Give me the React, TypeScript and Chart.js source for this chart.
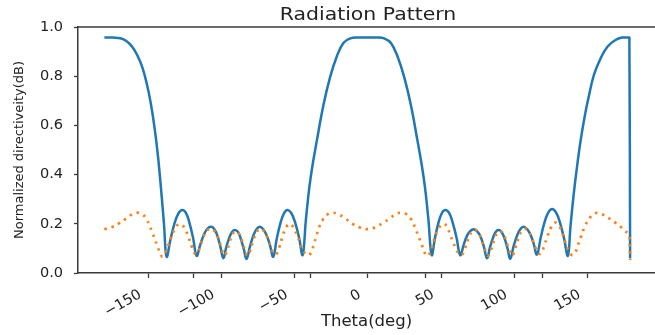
import React, { useEffect, useRef } from 'react';
import { Chart, registerables } from 'chart.js';

Chart.register(...registerables);

// ---- data ----
const blueTheta = [
  -180, -174, -169, -165, -161, -157.5, -154, -151.1, -148.3, -145.6, -143.3, -141.2, -139.3, -137.5,
  -134.8, -132.2, -129.5, -126.8, -124.3, -121.9, -119.4, -117,
  -114.5, -112.1, -109.7, -107.2, -105.1, -103, -100.9, -98.8,
  -96.8, -94.8, -92.8, -90.8, -88.8, -86.9, -84.9, -82.9,
  -80.6, -78.4, -76.1, -73.8, -71.5, -69.3, -67, -64.7,
  -62.3, -59.9, -57.5, -55.1, -52.4, -49.7, -47, -44.6,
  -42.4, -40.2, -37.8, -35, -30.5, -25.9, -21.3, -16.8, -12, -6, 0, 6, 11, 15.7, 20.2, 24.8, 29.4, 33.9, 36.7, 39.1, 41.3, 43.5,
  45.8, 48.1, 50.5, 52.8, 55.4, 57.9, 60.5, 63,
  65.3, 67.5, 69.8, 72.1, 74.4, 76.7, 79, 81.3,
  83.3, 85.3, 87.2, 89.2, 91.2, 93.2, 95.2, 97.2,
  99.5, 101.8, 104, 106.3, 108.6, 110.9, 113.1, 115.4,
  118, 120.5, 123.1, 125.7, 128.4, 131.1, 133.8, 136.5,
  138.3, 140.3, 142.5, 145, 147.8, 150.5, 154.3, 158.9, 163.5, 169, 173.5, 178, 178.5, 179,
];
const blueValue = [
  0.957, 0.957, 0.954, 0.943, 0.92, 0.885, 0.835, 0.771, 0.69, 0.585, 0.47, 0.335, 0.2, 0.066,
  0.138, 0.2, 0.241, 0.256, 0.244, 0.204, 0.142, 0.07,
  0.115, 0.155, 0.18, 0.188, 0.18, 0.155, 0.11, 0.06,
  0.104, 0.142, 0.167, 0.175, 0.167, 0.14, 0.1, 0.057,
  0.107, 0.15, 0.178, 0.188, 0.178, 0.155, 0.115, 0.066,
  0.139, 0.2, 0.241, 0.256, 0.244, 0.205, 0.142, 0.073,
  0.215, 0.34, 0.44, 0.535, 0.68, 0.795, 0.88, 0.935, 0.954, 0.957, 0.957, 0.957, 0.954, 0.935, 0.88, 0.795, 0.68, 0.535, 0.44, 0.34, 0.215, 0.073,
  0.143, 0.204, 0.244, 0.256, 0.244, 0.204, 0.143, 0.073,
  0.113, 0.15, 0.17, 0.178, 0.17, 0.15, 0.11, 0.06,
  0.104, 0.142, 0.167, 0.175, 0.167, 0.142, 0.102, 0.058,
  0.11, 0.152, 0.178, 0.188, 0.179, 0.157, 0.12, 0.075,
  0.145, 0.205, 0.245, 0.26, 0.246, 0.205, 0.143, 0.07,
  0.19, 0.31, 0.42, 0.53, 0.63, 0.71, 0.805, 0.873, 0.92, 0.947, 0.957, 0.957, 0.957, 0.06,
];

const orangeTheta = [
  -180, -175, -170, -165, -160.5, -157, -154, -151.5, -149.3, -147.3, -145.4, -143.5, -141.8, -140.3,
  -138.6, -136.5, -134.3, -132, -129.5, -127, -124.8, -122.5, -120.3, -118.3,
  -116.5, -114.4, -112, -109.5, -107, -104.5, -102, -100, -98.3,
  -96.5, -94.3, -92.3, -90.3, -88.2, -86, -84, -82.3,
  -80.5, -78.2, -75.9, -73.5, -71, -68.5, -66.3, -64.3,
  -62.5, -60.5, -58.5, -56, -53.3, -50.7, -48.3, -46.2, -44.3, -42.5, -40.5,
  -38.8, -37, -35.2, -33.3, -31, -28, -24.5, -20, -15.5, -10.5, -5.5, 0, 5, 10, 15, 19, 22.5, 26.3, 29, 31, 33, 34.8, 36.5, 38.2, 39.8,
  41.5, 43.3, 45.3, 47.5, 50, 52, 54, 56, 58, 60, 62.2,
  64.2, 66.2, 68.5, 70.8, 73, 75.3, 77.6, 79.8, 81.8,
  83.8, 86, 88.2, 90.3, 92.5, 94.7, 96.7, 98.5,
  100.5, 102.8, 105, 107.3, 109.6, 112, 114.3, 116.3,
  118.2, 120.3, 122.5, 125, 127.7, 130.2, 132.5, 134.8, 137, 139.3,
  141.3, 143.2, 145.3, 148, 151.5, 155.5, 159.5, 164, 168.5, 172.5, 175.5, 178, 178.5, 179,
];
const orangeValue = [
  0.178, 0.186, 0.202, 0.222, 0.24, 0.245, 0.238, 0.222, 0.195, 0.165, 0.135, 0.105, 0.078, 0.066,
  0.08, 0.11, 0.145, 0.178, 0.198, 0.196, 0.178, 0.145, 0.108, 0.08,
  0.08, 0.112, 0.152, 0.175, 0.18, 0.168, 0.138, 0.1, 0.072,
  0.085, 0.13, 0.16, 0.17, 0.16, 0.13, 0.092, 0.07,
  0.09, 0.135, 0.168, 0.18, 0.17, 0.14, 0.105, 0.078,
  0.077, 0.105, 0.145, 0.185, 0.2, 0.183, 0.152, 0.12, 0.092, 0.077, 0.072,
  0.085, 0.115, 0.152, 0.187, 0.215, 0.237, 0.245, 0.238, 0.222, 0.2, 0.185, 0.178, 0.186, 0.203, 0.222, 0.24, 0.245, 0.239, 0.222, 0.2, 0.172, 0.145, 0.118, 0.092, 0.07,
  0.074, 0.1, 0.138, 0.172, 0.195, 0.2, 0.187, 0.158, 0.127, 0.1, 0.078,
  0.074, 0.1, 0.14, 0.168, 0.176, 0.165, 0.135, 0.098, 0.07,
  0.09, 0.132, 0.163, 0.17, 0.158, 0.125, 0.088, 0.07,
  0.1, 0.142, 0.172, 0.18, 0.17, 0.14, 0.105, 0.08,
  0.08, 0.11, 0.148, 0.185, 0.205, 0.195, 0.165, 0.125, 0.09, 0.073,
  0.08, 0.11, 0.145, 0.188, 0.225, 0.244, 0.24, 0.225, 0.207, 0.188, 0.172, 0.158, 0.156, 0.053,
];

const xTickValues = [-150, -119, -100, -50, -39.5, 0, 39.5, 50, 100, 119, 150];
const xTickLabels = [-150, -100, -50, 0, 50, 100, 150];
const yTickValues = [0, 0.2, 0.4, 0.6, 0.8, 1.0];

const titleText = 'Radiation Pattern';
const xTitleText = 'Theta(deg)';
const yTitleText = 'Normalized directiveity(dB)';

const FONT = '"DejaVu Sans", Verdana, sans-serif';
const TEXT = '#222222';
const AXIS = '#3a3a3a';

function zip(xs: number[], ys: number[]) {
  return xs.map((x, i) => ({ x, y: ys[i] }));
}

function fmtX(v: number) {
  return v < 0 ? '\u2212' + Math.abs(v) : String(v);
}

const framePlugin = {
  id: 'frame',
  afterDraw(chart: any) {
    const { ctx, chartArea: a } = chart;
    ctx.save();
    ctx.strokeStyle = AXIS;
    ctx.lineWidth = 1.5;
    ctx.beginPath();
    ctx.moveTo(a.left, a.top);
    ctx.lineTo(a.right, a.top);
    ctx.stroke();
    ctx.fillStyle = TEXT;
    ctx.font = '17px ' + FONT;
    ctx.textAlign = 'center';
    ctx.textBaseline = 'alphabetic';
    ctx.translate((a.left + a.right + 3) / 2, a.top - 7);
    ctx.scale(1.2, 1);
    ctx.fillText(titleText, 0, 0);
    ctx.restore();
  },
};

export default function App() {
  const ref = useRef<HTMLCanvasElement | null>(null);

  useEffect(() => {
    const canvas = ref.current;
    if (!canvas) return;
    const chart = new Chart(canvas, {
      type: 'line',
      data: {
        datasets: [
          {
            label: 'orange',
            data: zip(orangeTheta, orangeValue),
            borderColor: '#ff7f0e',
            backgroundColor: '#ff7f0e',
            borderWidth: 2.7,
            borderDash: [2.4, 4.9],
            pointRadius: 0,
            tension: 0.4,
            fill: false,
            order: 0,
          },
          {
            label: 'blue',
            data: zip(blueTheta, blueValue),
            borderColor: '#1f77b4',
            backgroundColor: '#1f77b4',
            borderWidth: 2.5,
            pointRadius: 0,
            tension: 0.4,
            fill: false,
            order: 1,
          },
        ],
      },
      options: {
        animation: false,
        responsive: false,
        maintainAspectRatio: false,
        layout: { padding: { top: 27, left: 0, right: 0, bottom: 0 } },
        plugins: {
          legend: { display: false },
          tooltip: { enabled: false },
          title: { display: false },
        },
        scales: {
          x: {
            type: 'linear',
            min: -198,
            max: 196,
            afterBuildTicks: (s: any) => {
              s.ticks = xTickValues.map((v) => ({ value: v }));
            },
            afterFit: (s: any) => {
              s.height = 62;
            },
            ticks: {
              autoSkip: false,
              minRotation: 30,
              maxRotation: 30,
              padding: 8,
              labelOffset: -8,
              color: TEXT,
              font: { family: FONT, size: 14.5 },
              callback: (v: any) => (xTickLabels.includes(Number(v)) ? fmtX(Number(v)) : ''),
            },
            grid: {
              display: true,
              drawOnChartArea: false,
              drawTicks: true,
              tickLength: 5,
              tickColor: AXIS,
              tickWidth: 1.3,
              color: AXIS,
            },
            border: { display: true, color: AXIS, width: 1.5 },
            title: {
              display: true,
              text: xTitleText,
              color: TEXT,
              font: { family: FONT, size: 16.5 },
              padding: { top: 0, bottom: 3 },
            },
          },
          y: {
            type: 'linear',
            min: 0,
            max: 1,
            afterBuildTicks: (s: any) => {
              s.ticks = yTickValues.map((v) => ({ value: v }));
            },
            afterFit: (s: any) => {
              s.width = 78;
            },
            ticks: {
              padding: 11,
              color: TEXT,
              font: { family: FONT, size: 14.5 },
              callback: (v: any) => Number(v).toFixed(1),
            },
            grid: {
              display: true,
              drawOnChartArea: false,
              drawTicks: true,
              tickLength: 4,
              tickColor: AXIS,
              tickWidth: 1.3,
              color: AXIS,
            },
            border: { display: true, color: AXIS, width: 1.5 },
            title: {
              display: true,
              text: yTitleText,
              color: TEXT,
              font: { family: FONT, size: 13 },
              padding: { top: 12, bottom: 0 },
            },
          },
        },
      },
      plugins: [framePlugin],
    } as any);
    return () => chart.destroy();
  }, []);

  return (
    <div style={{ position: 'fixed', left: 0, top: 0, width: 655, height: 335, background: '#fff' }}>
      <canvas ref={ref} width={655} height={335} style={{ display: 'block', width: '655px', height: '335px' }} />
    </div>
  );
}
